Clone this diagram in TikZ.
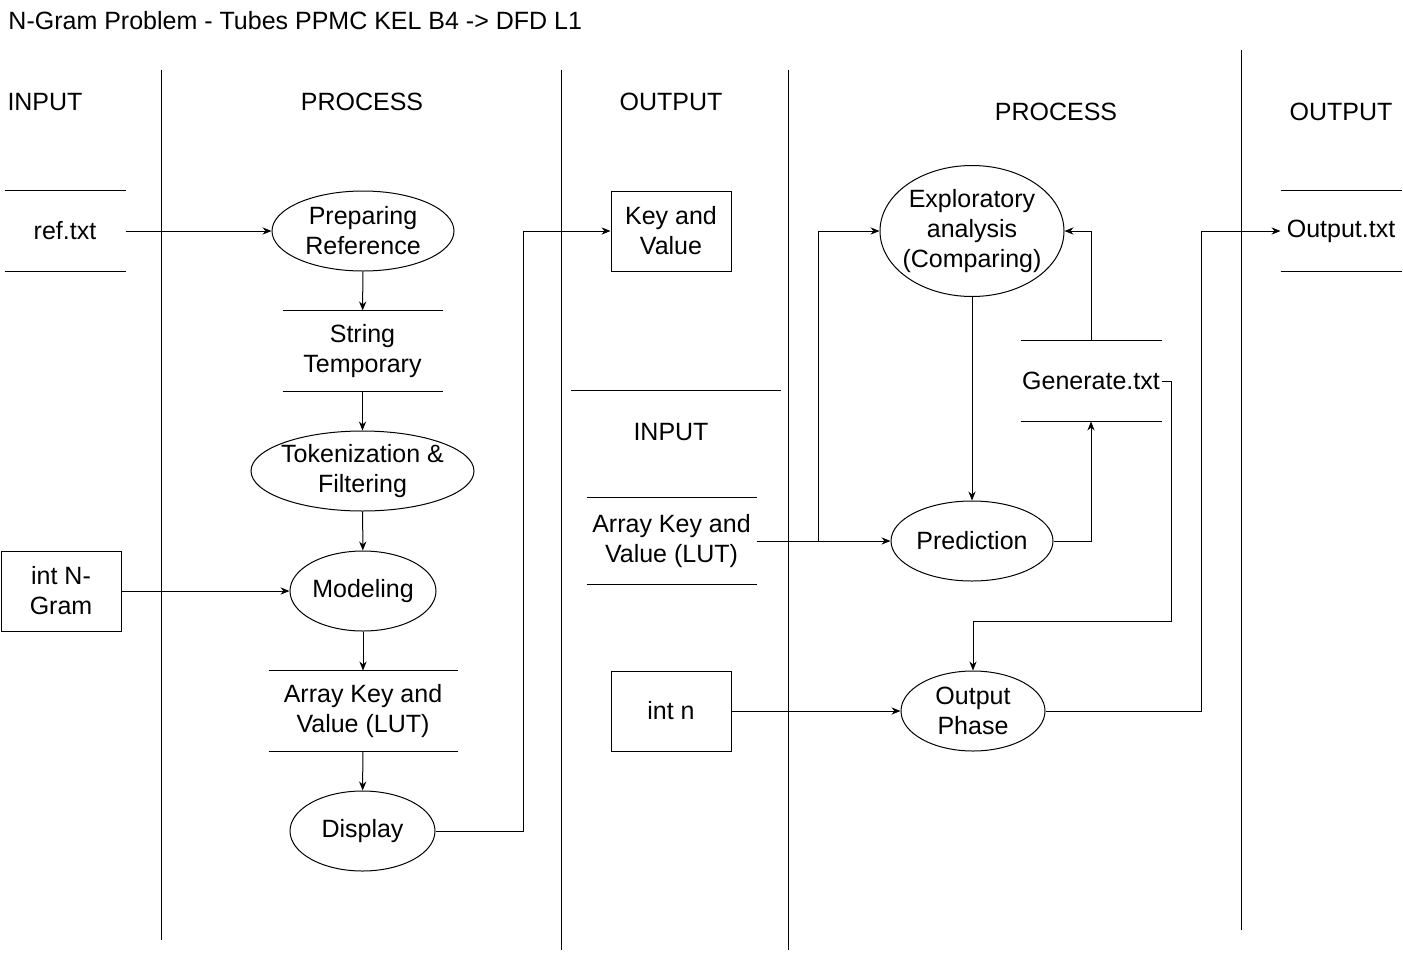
\documentclass[tikz,border=0pt]{standalone}
\usepackage{fontspec}
\setmainfont{Liberation Sans}
\usetikzlibrary{shapes.geometric,arrows.meta}
\tikzset{
  proc/.style={ellipse, draw, inner sep=-10pt, align=center, minimum height=40pt},
  box/.style={rectangle, draw, inner sep=0pt, align=center, minimum width=60pt, minimum height=40pt},
  store/.style={inner sep=0pt, align=center, minimum height=40pt},
  lane/.style={line width=0.5pt},
  head/.style={inner sep=0pt},
}
\begin{document}
\begin{tikzpicture}[x=0.5pt, y=-0.5pt, >={Stealth[length=4.5pt,width=3.6pt]}, line width=0.5pt,
  font=\fontsize{12.5}{15}\selectfont]
  \useasboundingbox (0,0) rectangle (1403,954);
  % title and lanes
  \node[head, anchor=west] (title) at (8,21) {N-Gram Problem - Tubes PPMC KEL B4 -> DFD L1};
  \draw[lane] (161,70) -- (161,940);
  \draw[lane] (561,70) -- (561,950);
  \draw[lane] (788,70) -- (788,950);
  \draw[lane] (1241,50) -- (1241,930);
  \draw[lane] (571,390) -- (781,390);
  \node[head] (h1) at (45,102) {INPUT};
  \node[head] (h2) at (362,102) {PROCESS};
  \node[head] (h3) at (671,102) {OUTPUT};
  \node[head] (h4) at (671,432) {INPUT};
  \node[head] (h5) at (1056,112) {PROCESS};
  \node[head] (h6) at (1341,112) {OUTPUT};

  % left part
  \node[store, minimum width=60pt] (ref) at (65,231) {ref.txt};
  \node[proc, minimum width=91pt] (prep) at (363,231) {Preparing\\Reference};
  \node[store, minimum width=79.5pt] (strtmp) at (362.5,351) {String\\Temporary};
  \node[proc, minimum width=111.5pt] (tok) at (362.5,471) {Tokenization \&\\Filtering};
  \node[box] (ngram) at (61,591) {int N-\\Gram};
  \node[proc, minimum width=73pt] (model) at (363,591) {Modeling};
  \node[store, minimum width=94pt] (lut) at (363,711) {Array Key and\\Value (LUT)};
  \node[proc, minimum width=72.5pt] (disp) at (362.5,831) {Display};
  \node[box] (kv) at (671,231) {Key and\\Value};

  % right part
  \node[store, minimum width=84.5pt, minimum height=43pt] (lut2) at (671.5,541) {Array Key and\\Value (LUT)};
  \node[proc, minimum width=92pt, minimum height=65.5pt] (expl) at (972,231) {Exploratory\\analysis\\(Comparing)};
  \node[proc, minimum width=81pt] (pred) at (972,541) {Prediction};
  \node[store, minimum width=70pt] (gen) at (1091,381) {Generate.txt};
  \node[box] (intn) at (671,711) {int n};
  \node[proc, minimum width=72pt] (outp) at (973,711) {Output\\Phase};
  \node[store, minimum width=60pt] (outtxt) at (1341,231) {Output.txt};

  \foreach \n in {ref,strtmp,lut,lut2,gen,outtxt}
    \draw (\n.north west) -- (\n.north east) (\n.south west) -- (\n.south east);

  \coordinate (j1) at (523,231);
  \coordinate (j2) at (818,541);
  \coordinate (j3) at (1171,621);
  \coordinate (j4) at (1201,231);

  % flows
  \draw[->] (ref) -- (prep);
  \draw[->] (prep) -- (strtmp);
  \draw[->] (strtmp) -- (tok);
  \draw[->] (tok) -- (model);
  \draw[->] (ngram) -- (model);
  \draw[->] (model) -- (lut);
  \draw[->] (lut) -- (disp);
  \draw[->] (disp.east) -| (j1) -- (kv.west);
  \draw[->] (lut2.east) -- (pred.west);
  \draw[->] (j2) |- (expl.west);
  \draw[->] (expl) -- (pred);
  \draw[->] (pred.east) -| (gen.south);
  \draw[->] (gen.north) |- (expl.east);
  \draw[->] (gen.east) -| (j3) -| (outp.north);
  \draw[->] (intn) -- (outp);
  \draw[->] (outp.east) -| (j4) -- (outtxt.west);
\end{tikzpicture}
\end{document}
